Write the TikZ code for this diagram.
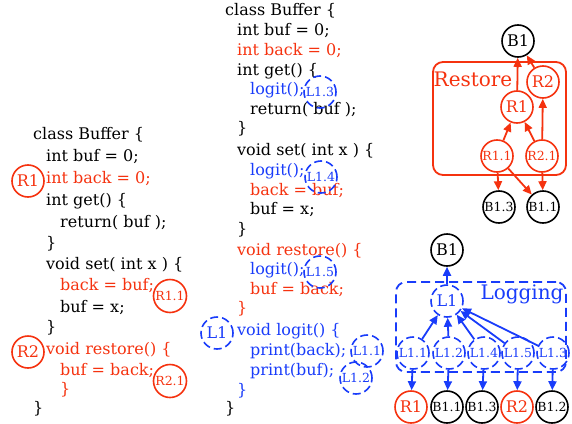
\documentclass[tikz,border=0pt]{standalone}
\usepackage{fontspec}
\setmainfont{DejaVu Serif}
\usetikzlibrary{arrows.meta, positioning}
\definecolor{restred}{RGB}{245,50,15}
\definecolor{logblue}{RGB}{25,60,250}

\tikzset{
  code/.style={anchor=mid west, inner sep=0pt, font=\fontsize{16}{18}\selectfont},
  rmark/.style={circle, draw=restred, text=restred, line width=1.6pt, inner sep=0pt, minimum size=32pt, font=\fontsize{16}{18}\selectfont},
  lmark/.style={circle, draw=logblue, text=logblue, line width=1.6pt, dash pattern=on 8pt off 4pt, inner sep=0pt, minimum size=32pt, font=\fontsize{16}{18}\selectfont},
  tiny/.style={font=\fontsize{12.5}{14}\selectfont},
  gnode/.style={circle, draw, line width=1.6pt, inner sep=0pt, minimum size=32pt, font=\fontsize{16}{18}\selectfont},
  arr/.style={-{Triangle[length=9pt,width=8pt]}, line width=1.8pt},
}

\begin{document}
\begin{tikzpicture}[x=1pt, y=-1pt]
  \useasboundingbox (0,0) rectangle (572,423);

  % first version of the class, with restore
  \node[code] (a1) at (33,137) {class Buffer \{};
  \node[code] (a2) at (46,159) {int buf = 0;};
  \node[code, restred] (a3) at (46,181) {int back = 0;};
  \node[code] (a4) at (46,203) {int get() \{};
  \node[code] (a5) at (60,225) {return( buf );};
  \node[code] (a6) at (46,246) {\}};
  \node[code] (a7) at (46,267) {void set( int x ) \{};
  \node[code, restred] (a8) at (60,288) {back = buf;};
  \node[code] (a9) at (60,310) {buf = x;};
  \node[code] (a10) at (46,330) {\}};
  \node[code, restred] (a11) at (46,352) {void restore() \{};
  \node[code, restred] (a12) at (60,373) {buf = back;};
  \node[code, restred] (a13) at (60,392) {\}};
  \node[code] (a14) at (33,411) {\}};

  \node[rmark] (ar1) at (28,181) {R1};
  \node[rmark, tiny, minimum size=33pt] (ar11) at (170,296) {R1.1};
  \node[rmark] (ar2) at (28,352) {R2};
  \node[rmark, tiny, minimum size=33pt] (ar21) at (170,381) {R2.1};

  % second version, with logging added
  \node[code] (b1) at (225,13) {class Buffer \{};
  \node[code] (b2) at (237,33) {int buf = 0;};
  \node[code, restred] (b3) at (237,53) {int back = 0;};
  \node[code] (b4) at (237,73) {int get() \{};
  \node[code, logblue] (b5) at (250,92) {logit();};
  \node[code] (b6) at (250,112) {return( buf );};
  \node[code] (b7) at (237,131) {\}};
  \node[code] (b8) at (237,153) {void set( int x ) \{};
  \node[code, logblue] (b9) at (250,173) {logit();};
  \node[code, restred] (b10) at (250,193) {back = buf;};
  \node[code] (b11) at (250,212) {buf = x;};
  \node[code] (b12) at (237,232) {\}};
  \node[code, restred] (b13) at (237,253) {void restore() \{};
  \node[code, logblue] (b14) at (250,272) {logit();};
  \node[code, restred] (b15) at (250,292) {buf = back;};
  \node[code, restred] (b16) at (237,311) {\}};
  \node[code, logblue] (b17) at (237,333) {void logit() \{};
  \node[code, logblue] (b18) at (250,353) {print(back);};
  \node[code, logblue] (b19) at (250,373) {print(buf);};
  \node[code, logblue] (b20) at (237,393) {\}};
  \node[code] (b21) at (225,411) {\}};

  \node[lmark, tiny] (bl13) at (320,92) {L1.3};
  \node[lmark, tiny] (bl14) at (321,177) {L1.4};
  \node[lmark, tiny] (bl15) at (320,272) {L1.5};
  \node[lmark] (bl1) at (217,333) {L1};
  \node[lmark, tiny] (bl11) at (367,351) {L1.1};
  \node[lmark, tiny] (bl12) at (356,378) {L1.2};

  % restore feature graph
  \node[draw=restred, line width=1.8pt, rounded corners=10pt, minimum width=133pt, minimum height=113pt] (restore) at (499.5,118.5) {};
  \node[restred, inner sep=0pt, font=\fontsize{20}{22}\selectfont] (restlbl) at (473,79) {Restore};
  \node[gnode] (rb1) at (518,41) {B1};
  \node[gnode, restred] (rr1) at (517,107) {R1};
  \node[gnode, restred] (rr2) at (543,82) {R2};
  \node[gnode, restred, tiny] (rr11) at (497,156) {R1.1};
  \node[gnode, restred, tiny] (rr21) at (542,156) {R2.1};
  \node[gnode, tiny] (rb13) at (499,207) {B1.3};
  \node[gnode, tiny] (rb11) at (543,207) {B1.1};
  \foreach \s/\t in {rr1/rb1, rr2/rb1, rr11/rr1, rr21/rr1, rr21/rr2, rr11/rb13, rr11/rb11, rr21/rb11}
    \draw[arr, restred] (\s) -- (\t);

  % logging feature graph
  \node[draw=logblue, line width=1.8pt, dash pattern=on 9pt off 5pt, rounded corners=10pt, minimum width=170pt, minimum height=90pt] (logging) at (481,327) {};
  \node[logblue, inner sep=0pt, font=\fontsize{20}{22}\selectfont] (loglbl) at (522,294) {Logging};
  \node[gnode] (lb1) at (447,250) {B1};
  \node[gnode, logblue, dash pattern=on 8pt off 4pt] (ll1) at (447,301) {L1};
  \foreach \n/\x/\lbl in {ll11/413/L1.1, ll12/449/L1.2, ll14/484/L1.4, ll15/518/L1.5, ll13/553/L1.3}
    \node[gnode, logblue, tiny, dash pattern=on 8pt off 4pt] (\n) at (\x,353) {\lbl};
  \node[gnode, restred] (lr1) at (411,407) {R1};
  \node[gnode, tiny] (lb11) at (447,407) {B1.1};
  \node[gnode, tiny] (lb13) at (482,407) {B1.3};
  \node[gnode, restred] (lr2) at (517,407) {R2};
  \node[gnode, tiny] (lb12) at (552,407) {B1.2};
  \draw[arr, logblue] (ll1) -- (lb1);
  \foreach \s in {ll11, ll12, ll14, ll15, ll13}
    \draw[arr, logblue] (\s) -- (ll1);
  \foreach \s/\t in {ll11/lr1, ll12/lb11, ll14/lb13, ll15/lr2, ll13/lb12}
    \draw[arr, logblue] (\s) -- (\t);
\end{tikzpicture}
\end{document}
